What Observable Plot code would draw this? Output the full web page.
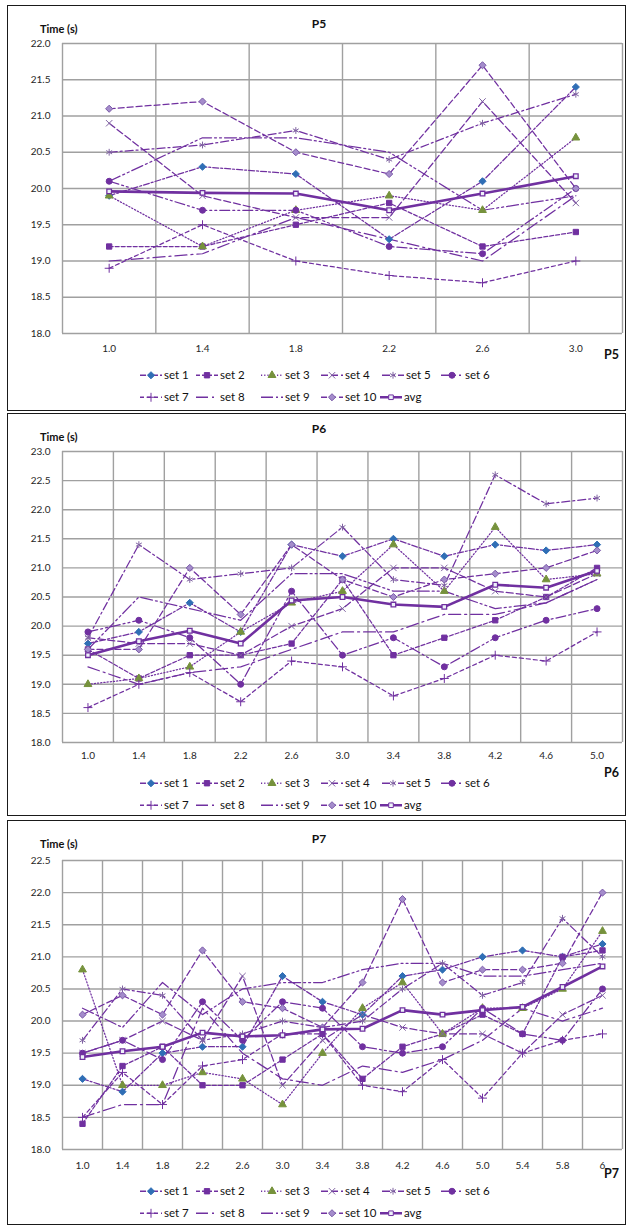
<!DOCTYPE html>
<html><head><meta charset="utf-8">
<script src="https://cdn.jsdelivr.net/npm/d3@7"></script>
<script src="https://cdn.jsdelivr.net/npm/@observablehq/plot@0.6"></script>
<style>
body{margin:0;background:#fff;font-family:Lato,"Open Sans",sans-serif;color:#111;}
#root{position:relative;width:627px;height:1225px;overflow:hidden;background:#fff;}
.frame{position:absolute;border:1.5px solid #1a1a1a;box-sizing:border-box;}
.abs{position:absolute;white-space:nowrap;line-height:1;transform:translateY(-50%);}
.ylab{font-weight:bold;font-size:11px;}
.title{font-weight:bold;font-size:12px;transform:translate(-50%,-50%);}
.xname{font-weight:bold;font-size:12.5px;}
.leg{position:absolute;display:flex;align-items:center;font-size:11.5px;line-height:1;transform:translateY(-50%);white-space:nowrap;}
.leg svg{margin-right:2px;}
.plot{position:absolute;left:0;}
</style></head><body><div id="root"></div>
<script>
// ---------- data ----------
const seriesNames = ["set 1","set 2","set 3","set 4","set 5","set 6","set 7","set 8","set 9","set 10"];
const avgName = "avg";

const p5Cats = ["1.0","1.4","1.8","2.2","2.6","3.0"];
const p5Series = [
  [19.9, 20.3, 20.2, 19.3, 20.1, 21.4],
  [19.2, 19.2, 19.5, 19.8, 19.2, 19.4],
  [19.9, 19.2, 19.7, 19.9, 19.7, 20.7],
  [20.9, 19.9, 19.6, 19.6, 21.2, 19.8],
  [20.5, 20.6, 20.8, 20.4, 20.9, 21.3],
  [20.1, 19.7, 19.7, 19.2, 19.1, 20.0],
  [18.9, 19.5, 19.0, 18.8, 18.7, 19.0],
  [19.0, 19.1, 19.6, 19.3, 19.0, 19.9],
  [20.1, 20.7, 20.7, 20.5, 19.7, 19.9],
  [21.1, 21.2, 20.5, 20.2, 21.7, 20.0]
];
const p5Avg = [19.96, 19.94, 19.93, 19.70, 19.93, 20.17];

const p6Cats = ["1.0","1.4","1.8","2.2","2.6","3.0","3.4","3.8","4.2","4.6","5.0"];
const p6Series = [
  [19.7, 19.9, 20.4, 19.9, 21.4, 21.2, 21.5, 21.2, 21.4, 21.3, 21.4],
  [19.6, 19.1, 19.5, 19.5, 19.7, 20.8, 19.5, 19.8, 20.1, 20.5, 21.0],
  [19.0, 19.1, 19.3, 19.9, 20.4, 20.6, 21.4, 20.6, 21.7, 20.8, 20.9],
  [19.8, 19.7, 19.7, 19.5, 20.0, 20.3, 21.0, 21.0, 20.6, 20.5, 20.9],
  [19.8, 21.4, 20.8, 20.9, 21.0, 21.7, 20.8, 20.7, 22.6, 22.1, 22.2],
  [19.9, 20.1, 19.8, 19.0, 20.6, 19.5, 19.8, 19.3, 19.8, 20.1, 20.3],
  [18.6, 19.0, 19.2, 18.7, 19.4, 19.3, 18.8, 19.1, 19.5, 19.4, 19.9],
  [19.3, 19.0, 19.2, 19.3, 19.6, 19.9, 19.9, 20.2, 20.2, 20.4, 20.8],
  [19.6, 20.5, 20.3, 20.1, 20.9, 20.9, 20.6, 20.6, 20.3, 20.4, 20.8],
  [19.6, 19.6, 21.0, 20.2, 21.4, 20.8, 20.5, 20.8, 20.9, 21.0, 21.3]
];
const p6Avg = [19.50, 19.74, 19.92, 19.70, 20.44, 20.50, 20.37, 20.33, 20.71, 20.66, 20.95];

const p7Cats = ["1.0","1.4","1.8","2.2","2.6","3.0","3.4","3.8","4.2","4.6","5.0","5.4","5.8","6"];
const p7Series = [
  [19.1, 18.9, 19.5, 19.6, 19.6, 20.7, 20.3, 20.1, 20.7, 20.8, 21.0, 21.1, 21.0, 21.2],
  [18.4, 19.3, 19.6, 19.0, 19.0, 19.4, 19.8, 19.1, 19.6, 19.8, 20.1, 19.8, 21.0, 21.1],
  [20.8, 19.0, 19.0, 19.2, 19.1, 18.7, 19.5, 20.2, 20.6, 19.8, 20.2, 20.2, 20.5, 21.4],
  [19.5, 19.7, 20.0, 19.7, 20.7, 19.0, 19.7, 20.1, 19.9, 19.8, 19.8, 19.5, 20.1, 20.4],
  [19.7, 20.5, 20.4, 19.7, 19.8, 20.0, 19.9, 20.0, 20.5, 20.9, 20.4, 20.6, 21.6, 21.0],
  [19.5, 19.7, 19.4, 20.3, 19.7, 20.3, 20.2, 19.6, 19.5, 19.6, 20.2, 19.8, 19.7, 20.5],
  [18.5, 19.2, 18.7, 19.3, 19.4, 19.8, 19.8, 19.0, 18.9, 19.4, 18.8, 19.5, 19.7, 19.8],
  [18.5, 18.7, 18.7, 20.2, 19.5, 19.1, 19.0, 19.3, 19.2, 19.4, 19.7, 20.2, 20.0, 20.2],
  [20.2, 19.9, 20.6, 20.1, 20.5, 20.6, 20.6, 20.8, 20.9, 20.9, 20.7, 20.7, 20.8, 20.9],
  [20.1, 20.4, 20.1, 21.1, 20.3, 20.2, 19.9, 20.6, 21.9, 20.6, 20.8, 20.8, 20.9, 22.0]
];
const p7Avg = [19.44, 19.53, 19.60, 19.82, 19.76, 19.78, 19.87, 19.88, 20.17, 20.10, 20.17, 20.22, 20.53, 20.85];

// ---------- styles ----------
const LINE = "#7030A0";
const GRID = "#A0A0A0";
const FONT = "Lato, 'Open Sans', sans-serif";
const STYLES = [
  {sym:"diamond2", r:3.2, fill:"#2F6EB5", stroke:"#2F6EB5", dash:"6,2,2,2", d3sym:d3.symbolDiamond2},
  {sym:"square", r:3.0, fill:LINE, stroke:LINE, dash:"4,2", d3sym:d3.symbolSquare},
  {sym:"triangle", r:2.9, fill:"#76923C", stroke:"#76923C", dash:"1.2,2", d3sym:d3.symbolTriangle},
  {sym:"times", r:3.0, fill:"none", stroke:"#8064A2", dash:"7,3", d3sym:d3.symbolTimes},
  {sym:"asterisk", r:3.2, fill:"none", stroke:"#8064A2", dash:"8,3,2,3", d3sym:d3.symbolAsterisk},
  {sym:"circle", r:3.0, fill:LINE, stroke:LINE, dash:"10,3,2,3,2,3", d3sym:d3.symbolCircle},
  {sym:"plus", r:3.0, fill:"none", stroke:LINE, dash:"4,3", d3sym:d3.symbolPlus},
  {sym:null, dash:"12,4,2,4"},
  {sym:null, dash:"12,3,2,3,2,3"},
  {sym:"diamond2", r:3.2, fill:"#A48CCB", stroke:"#7A5AA8", dash:"6,3", d3sym:d3.symbolDiamond2}
];

const panels = [
  {name:"P5", cats:p5Cats, series:p5Series, avg:p5Avg, yMin:18, yMax:22,
   frameTop:5, frameBottom:411, plotTop:43, plotBottom:333, ylabY:28, titleY:24, xlabY:348, xnameY:355, leg1Y:375, leg2Y:397},
  {name:"P6", cats:p6Cats, series:p6Series, avg:p6Avg, yMin:18, yMax:23,
   frameTop:413, frameBottom:816, plotTop:451, plotBottom:742, ylabY:436, titleY:429, xlabY:755, xnameY:773, leg1Y:783, leg2Y:805},
  {name:"P7", cats:p7Cats, series:p7Series, avg:p7Avg, yMin:18, yMax:22.5,
   frameTop:820, frameBottom:1225, plotTop:860, plotBottom:1149, ylabY:843, titleY:839, xlabY:1165, xnameY:1174, leg1Y:1191, leg2Y:1213}
];

const root = document.getElementById("root");

function el(tag, cls, text, css) {
  const e = document.createElement(tag);
  if (cls) e.className = cls;
  if (text != null) e.textContent = text;
  Object.assign(e.style, css || {});
  root.appendChild(e);
  return e;
}

const NS = "http://www.w3.org/2000/svg";
function swatch(k) {
  const s = document.createElementNS(NS, "svg");
  s.setAttribute("width", 22); s.setAttribute("height", 10);
  const ln = document.createElementNS(NS, "line");
  ln.setAttribute("x1", 0); ln.setAttribute("x2", 22); ln.setAttribute("y1", 5); ln.setAttribute("y2", 5);
  ln.setAttribute("stroke", LINE);
  if (k < 0) { ln.setAttribute("stroke-width", 2.6); }
  else { ln.setAttribute("stroke-width", 1.3); ln.setAttribute("stroke-dasharray", STYLES[k].dash); }
  s.appendChild(ln);
  const st = k < 0 ? {d3sym:d3.symbolSquare, r:2.6, fill:"#eef2fa", stroke:LINE} : STYLES[k];
  if (st.d3sym) {
    const p = document.createElementNS(NS, "path");
    p.setAttribute("d", d3.symbol(st.d3sym, Math.PI * st.r * st.r)());
    p.setAttribute("transform", "translate(11,5)");
    p.setAttribute("fill", st.fill);
    p.setAttribute("stroke", st.stroke);
    p.setAttribute("stroke-width", 1);
    s.appendChild(p);
  }
  return s;
}

function legendItem(k, label, x, y) {
  const d = el("div", "leg", null, {left: x + "px", top: y + "px"});
  d.appendChild(swatch(k));
  const t = document.createElement("span");
  t.textContent = label;
  d.appendChild(t);
}

panels.forEach(p => {
  el("div", "frame", null, {left:"7px", top:p.frameTop + "px", width:"619px", height:(p.frameBottom - p.frameTop) + "px"});
  el("div", "abs ylab", "Time (s)", {left:"40px", top:p.ylabY + "px"});
  el("div", "abs title", p.name, {left:"319px", top:p.titleY + "px"});
  el("div", "abs xname", p.name, {left:"604px", top:p.xnameY + "px"});

  const n = p.cats.length;
  const yTicks = d3.range(p.yMin, p.yMax + 0.001, 0.5);
  const mt = 10, mb = 30;
  const height = p.plotBottom - p.plotTop + mt + mb;
  const marks = [
    Plot.ruleY(yTicks, {stroke: GRID, strokeWidth: 1.4}),
    Plot.ruleX(d3.range(n + 1).map(i => i - 0.5), {stroke: GRID, strokeWidth: 1.4})
  ];
  p.series.forEach((vals, k) => {
    marks.push(Plot.line(vals, {x: (d, i) => i, y: d => d, stroke: LINE, strokeWidth: 1.25, strokeDasharray: STYLES[k].dash}));
  });
  p.series.forEach((vals, k) => {
    const st = STYLES[k];
    if (st.sym) marks.push(Plot.dot(vals, {x: (d, i) => i, y: d => d, symbol: st.sym, r: st.r, fill: st.fill, stroke: st.stroke, strokeWidth: 1}));
  });
  marks.push(Plot.line(p.avg, {x: (d, i) => i, y: d => d, stroke: LINE, strokeWidth: 2.6}));
  marks.push(Plot.dot(p.avg, {x: (d, i) => i, y: d => d, symbol: "square", r: 2.6, fill: "#eef2fa", stroke: LINE, strokeWidth: 1.3}));

  const svg = Plot.plot({
    width: 627, height, marginLeft: 62, marginRight: 5, marginTop: mt, marginBottom: mb,
    style: {fontFamily: FONT, fontSize: "10px", color: "#262626", background: "transparent", overflow: "visible"},
    x: {type: "linear", domain: [-0.5, n - 0.5], ticks: d3.range(n), tickFormat: i => p.cats[i], tickSize: 0, tickPadding: p.xlabY - p.plotBottom - 4, label: null},
    y: {domain: [p.yMin, p.yMax], ticks: yTicks, tickFormat: d3.format(".1f"), tickSize: 0, tickPadding: 12, label: null},
    marks
  });
  svg.classList.add("plot");
  svg.style.position = "absolute";
  svg.style.left = "0px";
  svg.style.top = (p.plotTop - mt) + "px";
  root.appendChild(svg);

  const row1 = [140, 196, 261, 321, 382, 441];
  const row2 = [140, 196, 261, 321, 380];
  for (let k = 0; k < 6; k++) legendItem(k, seriesNames[k], row1[k], p.leg1Y);
  for (let k = 6; k < 10; k++) legendItem(k, seriesNames[k], row2[k - 6], p.leg2Y);
  legendItem(-1, avgName, row2[4], p.leg2Y);
});
</script></body></html>
